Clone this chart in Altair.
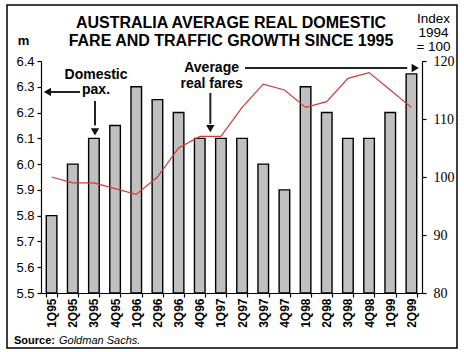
import altair as alt
import pandas as pd

quarters = ["1Q95", "2Q95", "3Q95", "4Q95", "1Q96", "2Q96", "3Q96", "4Q96",
            "1Q97", "2Q97", "3Q97", "4Q97", "1Q98", "2Q98", "3Q98", "4Q98",
            "1Q99", "2Q99"]
domestic_pax = [5.80, 6.00, 6.10, 6.15, 6.30, 6.25, 6.20, 6.10,
                6.10, 6.10, 6.00, 5.90, 6.30, 6.20, 6.10, 6.10,
                6.20, 6.35]
real_fares = [100, 99, 99, 98, 97, 100, 105, 107,
              107, 112, 116, 115, 112, 113, 117, 118,
              115, 112]
left_ticks = [5.5, 5.6, 5.7, 5.8, 5.9, 6.0, 6.1, 6.2, 6.3, 6.4]
right_ticks = [80, 90, 100, 110, 120]
title_lines = ["AUSTRALIA AVERAGE REAL DOMESTIC", "FARE AND TRAFFIC GROWTH SINCE 1995"]

# annotation texts, positions in (band index, left-axis value) units
ann_text = ["Domestic", "pax.", "Average", "real fares"]
ann_tx = [2.6, 2.6, 8.06, 8.06]
ann_ty = [6.346, 6.2875, 6.373, 6.311]
# arrow shafts
arr_x = [0.3, 2.55, 9.64, 8.0]
arr_x2 = [1.84, 2.55, 17.3, 8.0]
arr_y = [6.28, 6.245, 6.373, 6.276]
arr_y2 = [6.28, 6.15, 6.373, 6.156]
# arrow heads
head_x = [0.3, 2.55, 17.68, 8.0]
head_y = [6.28, 6.125, 6.373, 6.138]
head_shape = ["triangle-left", "triangle-down", "triangle-right", "triangle-down"]

SANS = "Liberation Sans"
SERIF = "Liberation Serif"

W, H = 381, 232

df = pd.DataFrame({"q": quarters, "pax": domestic_pax, "fare": real_fares})

xscale = alt.Scale(domain=quarters, paddingInner=0.5, paddingOuter=0.25)
yL = alt.Scale(domain=[5.5, 6.4], zero=False, nice=False)
yR = alt.Scale(domain=[80, 120], zero=False, nice=False)
fx = alt.Scale(domain=[0, 18], nice=False, zero=False)

bars = alt.Chart(df).mark_bar(color="#c0c0c0", stroke="black", strokeWidth=1.4).encode(
    x=alt.X("q:N", scale=xscale, sort=quarters, title=None,
            axis=alt.Axis(labelAngle=270, labelFont=SANS, labelFontSize=12,
                          labelFontWeight="bold", labelColor="black",
                          labelAlign="right", labelBaseline="middle",
                          tickBand="extent", tickSize=4, labelPadding=1,
                          domainColor="black", tickColor="black",
                          domainWidth=1.2, tickWidth=1.2)),
    y=alt.Y("pax:Q", scale=yL,
            axis=alt.Axis(values=left_ticks, format=".1f", labelFont=SANS,
                          labelFontSize=13, labelColor="black", tickSize=4,
                          labelPadding=3, domainColor="black", tickColor="black",
                          domainWidth=1.2, tickWidth=1.2, grid=False,
                          title="m", titleAngle=0, titleFont=SANS,
                          titleFontSize=13, titleFontWeight="bold",
                          titleColor="black", titleAlign="center",
                          titleBaseline="alphabetic", titleX=-18, titleY=-17)),
    y2=alt.datum(5.5),
)

line = alt.Chart(df).mark_line(color="#d03a3a", strokeWidth=1.2).encode(
    x=alt.X("q:N", scale=xscale, sort=quarters, axis=None),
    y=alt.Y("fare:Q", scale=yR,
            axis=alt.Axis(orient="right", values=right_ticks, labelFont=SERIF,
                          labelFontSize=14, labelColor="black", tickSize=4,
                          labelPadding=7, domainColor="black", tickColor="black",
                          domainWidth=1.2, tickWidth=1.2, grid=False,
                          title=["Index", "1994", "= 100"], titleAngle=0,
                          titleFont=SANS, titleFontSize=13.5, titleFontWeight="normal",
                          titleColor="black", titleAlign="center",
                          titleBaseline="alphabetic", titleX=11, titleY=-39,
                          titleLineHeight=14)),
)

tdf = pd.DataFrame({"t": ann_text, "x": ann_tx, "y": ann_ty})
texts = alt.Chart(tdf).mark_text(font=SANS, fontSize=14, fontWeight="bold",
                                 color="black", baseline="middle").encode(
    x=alt.X("x:Q", scale=fx, axis=None),
    y=alt.Y("y:Q", scale=yL, axis=None),
    text="t:N",
)

adf = pd.DataFrame({"x": arr_x, "x2": arr_x2, "y": arr_y, "y2": arr_y2})
shafts = alt.Chart(adf).mark_rule(color="#222222", strokeWidth=2).encode(
    x=alt.X("x:Q", scale=fx, axis=None), x2="x2:Q",
    y=alt.Y("y:Q", scale=yL, axis=None), y2="y2:Q",
)

hdf = pd.DataFrame({"x": head_x, "y": head_y, "s": head_shape})
heads = alt.Chart(hdf).mark_point(filled=True, color="#111111", size=70, opacity=1).encode(
    x=alt.X("x:Q", scale=fx, axis=None),
    y=alt.Y("y:Q", scale=yL, axis=None),
    shape=alt.Shape("s:N", scale=None),
)

one = pd.DataFrame({"a": [0]})
border = alt.Chart(one).mark_rect(fillOpacity=0, stroke="black", strokeWidth=1.5).encode(
    x=alt.value(-34), x2=alt.value(416), y=alt.value(-56), y2=alt.value(287),
)
title = alt.Chart(one).mark_text(text=title_lines, font=SANS, fontSize=16,
                                 fontWeight="bold", align="center",
                                 baseline="alphabetic", lineHeight=18,
                                 color="black").encode(
    x=alt.value(190), y=alt.value(-33))
src1 = alt.Chart(one).mark_text(text="Source:", font=SANS, fontSize=11,
                                fontWeight="bold", align="left",
                                baseline="alphabetic", color="black").encode(
    x=alt.value(-27), y=alt.value(283))
src2 = alt.Chart(one).mark_text(text="Goldman Sachs.", font=SANS, fontSize=11,
                                fontStyle="italic", align="left",
                                baseline="alphabetic", color="black").encode(
    x=alt.value(18), y=alt.value(283))

chart = alt.layer(bars, line, texts, shafts, heads, border, title, src1, src2).resolve_scale(
    x="independent", y="independent"
).properties(
    width=W, height=H,
    autosize=alt.AutoSizeParams(type="none"),
    padding={"left": 41, "top": 61, "right": 42, "bottom": 59},
    background="white",
).configure_view(stroke=None)

chart.save("out.html", embed_options={"renderer": "svg", "actions": False})
